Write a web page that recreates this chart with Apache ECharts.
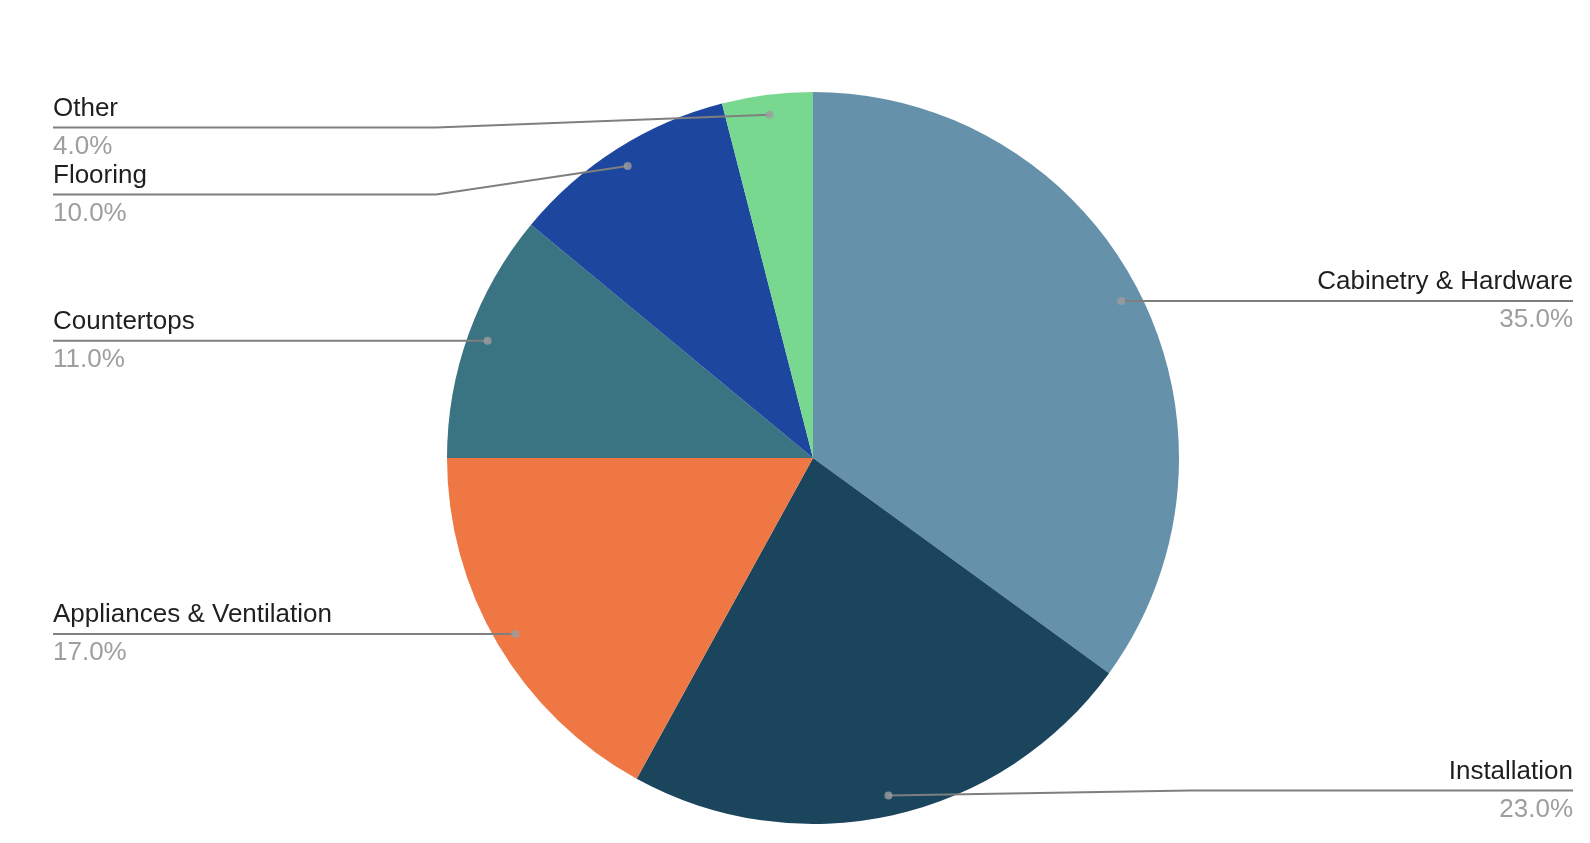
<!DOCTYPE html>
<html>
<head>
<meta charset="utf-8">
<title>Kitchen remodel budget</title>
<script src="https://cdn.jsdelivr.net/npm/echarts@6/dist/echarts.min.js"></script>
<style>
  html, body { margin: 0; padding: 0; background: #fff; }
  #chart { width: 1590px; height: 843px; }
</style>
</head>
<body>
<div id="chart"></div>
<script>
// data
const categories = ['Cabinetry & Hardware', 'Installation', 'Appliances & Ventilation', 'Countertops', 'Flooring', 'Other']
const shares = [35, 23, 17, 11, 10, 4]
const colors = ['#6691aa', '#1a455d', '#ee7743', '#3a7382', '#1d479f', '#78d890']

// layout (pixels)
const CX = 813
const CY = 458
const R = 366
const DOT_R = 0.945 // where the leader lines start, as part of the radius
const box = { left: 53, right: 17, top: 94, bottom: 19 }
const LABEL_H = 67 // room each label takes when they are stacked
const FONT = '"Liberation Sans", Arial, sans-serif'

const chart = echarts.init(document.getElementById('chart'))

const pieData = categories.map((name, i) => ({ name: name, value: shares[i] }))

// middle of each slice, in percent of the circle, for the dots
const total = shares.reduce((a, b) => a + b, 0)
let acc = 0
const midPct = shares.map(v => {
  const mid = (acc + v / 2) / total * 100
  acc += v
  return mid
})
const dotData = midPct.map(m => [DOT_R, m])

// label heights: start level with the dot, then keep labels apart and inside the box
const labelY = []
function stack(side) {
  const items = midPct
    .map((m, i) => {
      const a = m / 100 * Math.PI * 2
      return { i: i, x: Math.sin(a), y: CY - R * DOT_R * Math.cos(a) }
    })
    .filter(d => (side < 0 ? d.x < 0 : d.x >= 0))
    .sort((a, b) => a.y - b.y)
  const top = box.top + LABEL_H / 2
  const bottom = 843 - box.bottom - LABEL_H / 2
  items.forEach((d, k) => {
    d.y = Math.max(d.y, top, k ? items[k - 1].y + LABEL_H : top)
  })
  for (let k = items.length - 1; k >= 0; k--) {
    const d = items[k]
    d.y = Math.min(d.y, bottom, k < items.length - 1 ? items[k + 1].y - LABEL_H : bottom)
  }
  items.forEach(d => { labelY[d.i] = d.y })
}
stack(-1)
stack(1)

chart.setOption({
  animation: false,
  color: colors,
  textStyle: { fontFamily: FONT },
  polar: { center: [CX, CY], radius: R },
  angleAxis: { type: 'value', min: 0, max: 100, startAngle: 90, clockwise: true, show: false },
  radiusAxis: { type: 'value', min: 0, max: 1, show: false },
  series: [
    {
      // the visible pie
      type: 'pie',
      z: 1,
      left: box.left, right: box.right, top: box.top, bottom: box.bottom,
      center: [CX - box.left, CY - box.top],
      radius: R,
      startAngle: 90,
      silent: true,
      label: { show: false },
      labelLine: { show: false },
      itemStyle: { borderWidth: 0 },
      data: pieData
    },
    {
      // same slices, smaller and see-through: it only carries the labels
      type: 'pie',
      z: 3,
      left: box.left, right: box.right, top: box.top, bottom: box.bottom,
      center: [CX - box.left, CY - box.top],
      radius: R * DOT_R,
      startAngle: 90,
      silent: true,
      itemStyle: { color: 'transparent', borderWidth: 0 },
      label: {
        show: true,
        position: 'outside',
        alignTo: 'edge',
        edgeDistance: 0,
        overflow: 'none',
        formatter: p => '{n|' + p.name + '}\n{p|' + p.percent.toFixed(1) + '%}',
        rich: {
          n: { fontSize: 26, color: '#1f1f1f', lineHeight: 38, fontFamily: FONT },
          p: { fontSize: 26, color: '#9e9e9e', lineHeight: 38, fontFamily: FONT }
        }
      },
      labelLine: {
        show: true,
        length: 0,
        length2: 10,
        smooth: false,
        lineStyle: { color: '#7f7f7f', width: 2 }
      },
      labelLayout: function (params) {
        const pts = params.labelLinePoints
        const rect = params.labelRect
        if (!pts) return {}
        const isLeft = pts[0][0] < CX
        const y = labelY[params.dataIndex]
        const bendX = isLeft ? CX - R * 1.03 : CX + R * 1.03
        const endX = isLeft ? rect.x : rect.x + rect.width
        return { y: y, labelLinePoints: [pts[0], [bendX, y], [endX, y]] }
      },
      data: pieData
    },
    {
      // dots where the leader lines start
      type: 'scatter',
      coordinateSystem: 'polar',
      z: 5,
      symbol: 'circle',
      symbolSize: 8,
      silent: true,
      itemStyle: { color: '#9e9e9e' },
      data: dotData
    }
  ]
})
</script>
</body>
</html>
